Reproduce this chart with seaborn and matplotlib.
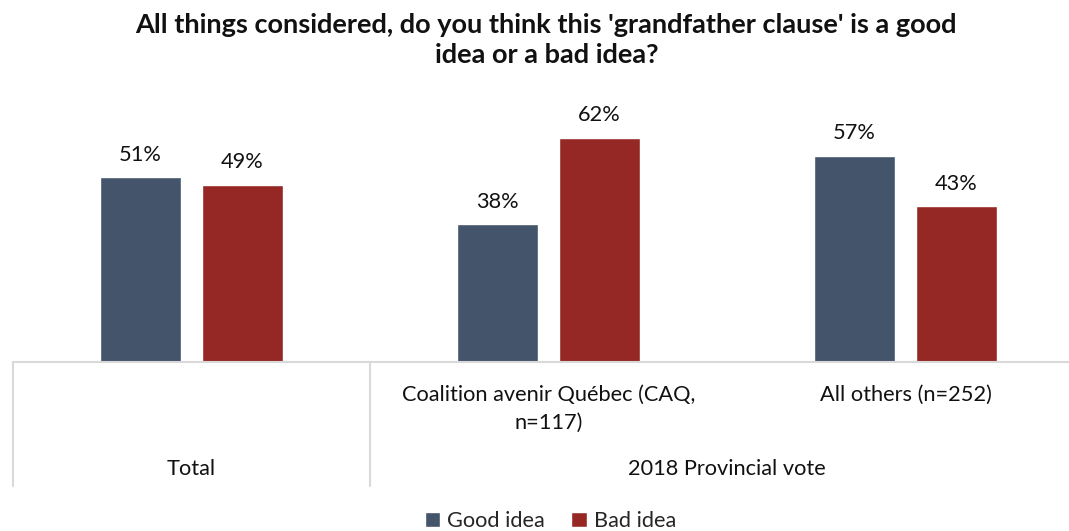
import matplotlib
matplotlib.use("Agg")
import matplotlib.pyplot as plt
import matplotlib.transforms as mtransforms
import pandas as pd
import seaborn as sns

# Survey results
categories = ["Total", "Coalition avenir Québec (CAQ,\nn=117)", "All others (n=252)"]
responses = ["Good idea", "Bad idea"]
good_idea = [51, 38, 57]
bad_idea = [49, 62, 43]
group_labels = ["Total", "2018 Provincial vote"]
title = "All things considered, do you think this 'grandfather clause' is a good\nidea or a bad idea?"

colors = ["#44546A", "#952824"]

df = pd.DataFrame({
    "category": categories * 2,
    "response": [responses[0]] * 3 + [responses[1]] * 3,
    "value": good_idea + bad_idea,
})

sns.set_theme(style="white")
plt.rcParams["font.family"] = ["Lato", "DejaVu Sans"]

W, H = 1069, 531
fig = plt.figure(figsize=(W / 100, H / 100), dpi=100)

def fy(px):
    return 1 - px / H

FS = 15.7
ymax = 72
base_px = 362
top_px = base_px - ymax * 3.62
ax = fig.add_axes([13 / W, fy(base_px), 1071 / W, (base_px - top_px) / H])

sns.barplot(data=df, x="category", y="value", hue="response", order=categories,
            hue_order=responses, palette=colors, width=0.572, gap=0.215,
            saturation=1, ax=ax, legend=True)

ax.set_xlim(-0.5, 2.5)
ax.set_ylim(0, ymax)
ax.set_xlabel("")
ax.set_ylabel("")
ax.set_yticks([])
ax.set_xticks([])
for side in ["top", "left", "right"]:
    ax.spines[side].set_visible(False)
ax.spines["bottom"].set_color("#D9D9D9")
ax.spines["bottom"].set_linewidth(1.5)

# value labels
for cont in ax.containers:
    ax.bar_label(cont, labels=[f"{v:.0f}%" for v in cont.datavalues],
                 padding=9, fontsize=FS, color="#111111")

# two-level category axis
tr = mtransforms.blended_transform_factory(ax.transData, fig.transFigure)
for xd in [-0.5, 0.5]:
    ax.plot([xd, xd], [fy(base_px), fy(486)], transform=tr, color="#D9D9D9",
            lw=1.5, clip_on=False)
ax.text(1, fy(395), "Coalition avenir Québec (CAQ,", transform=tr,
        ha="center", va="center", fontsize=FS, color="#111111")
ax.text(1, fy(423), "n=117)", transform=tr,
        ha="center", va="center", fontsize=FS, color="#111111")
ax.text(2, fy(395), categories[2], transform=tr,
        ha="center", va="center", fontsize=FS, color="#111111")
ax.text(0, fy(469), group_labels[0], transform=tr,
        ha="center", va="center", fontsize=FS, color="#111111")
ax.text(1.5, fy(469), group_labels[1], transform=tr,
        ha="center", va="center", fontsize=FS, color="#111111")

fig.text(0.511, fy(40), title, ha="center", va="center", fontsize=19.5,
         fontweight="bold", color="#111111", linespacing=1.3)

handles, labels = ax.get_legend_handles_labels()
ax.get_legend().remove()
fig.legend(handles, labels, loc="center", bbox_to_anchor=(0.515, fy(521)),
           ncol=2, frameon=False, fontsize=FS, handlelength=0.7,
           handleheight=0.7, handletextpad=0.35, columnspacing=1.2)

fig.savefig("out.png", dpi=100)
